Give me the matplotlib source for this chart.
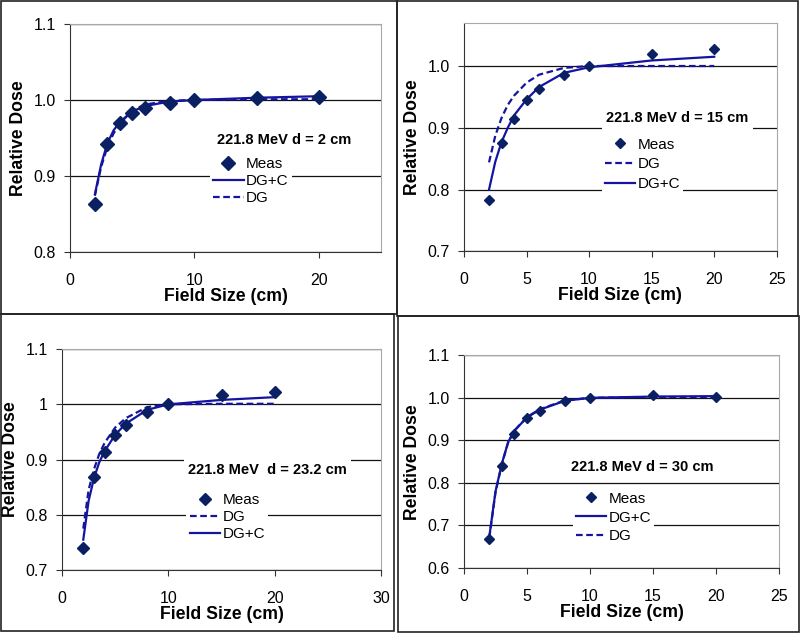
import matplotlib
matplotlib.use("Agg")
import matplotlib.pyplot as plt
from matplotlib.patches import Rectangle
from matplotlib.ticker import FormatStrFormatter, MultipleLocator

plt.rcParams["font.family"] = ["Liberation Sans", "DejaVu Sans"]

# measured points
field = [2, 3, 4, 5, 6, 8, 10, 15, 20]
meas_2cm = [0.863, 0.942, 0.970, 0.983, 0.990, 0.996, 1.000, 1.002, 1.004]
meas_15cm = [0.783, 0.875, 0.915, 0.945, 0.963, 0.986, 1.000, 1.020, 1.028]
meas_232cm = [0.740, 0.869, 0.913, 0.944, 0.963, 0.987, 1.000, 1.016, 1.023]
meas_30cm = [0.667, 0.839, 0.914, 0.952, 0.969, 0.992, 1.000, 1.006, 1.003]

# model curves
fit_x = [2, 2.5, 3, 3.5, 4, 5, 6, 8, 10, 15, 20]
dgc_2cm = [0.876, 0.915, 0.943, 0.960, 0.971, 0.985, 0.992, 0.998, 1.000, 1.003, 1.005]
dg_2cm = [0.874, 0.912, 0.938, 0.956, 0.969, 0.986, 0.994, 0.999, 1.000, 1.001, 1.001]
dgc_15cm = [0.800, 0.845, 0.877, 0.900, 0.920, 0.946, 0.966, 0.989, 0.998, 1.009, 1.015]
dg_15cm = [0.844, 0.887, 0.916, 0.937, 0.952, 0.973, 0.986, 0.997, 1.000, 1.000, 1.000]
dgc_232cm = [0.755, 0.825, 0.866, 0.895, 0.915, 0.945, 0.965, 0.990, 1.000, 1.008, 1.013]
dg_232cm = [0.775, 0.845, 0.882, 0.910, 0.930, 0.958, 0.975, 0.995, 1.000, 1.001, 1.001]
dgc_30cm = [0.672, 0.780, 0.845, 0.896, 0.923, 0.954, 0.972, 0.993, 1.000, 1.003, 1.004]
dg_30cm = [0.670, 0.778, 0.844, 0.895, 0.923, 0.955, 0.973, 0.994, 1.000, 1.002, 1.002]

panels = [
    # rect, data, xmax, xstep, ylim, yfmt, title, title pos, legend order, legend anchor, spacing, ms
    ([0.0875, 0.602, 0.389, 0.360], meas_2cm, dgc_2cm, dg_2cm, 25, 10, (0.8, 1.1), "%.1f",
     "221.8 MeV d = 2 cm", (0.688, 0.491), ["Meas", "DG+C", "DG"], (0.45, 0.43), 0.2, 7),
    ([0.580, 0.603, 0.391, 0.361], meas_15cm, dgc_15cm, dg_15cm, 25, 5, (0.7, 1.07), "%.1f",
     "221.8 MeV d = 15 cm", (0.682, 0.582), ["Meas", "DG", "DG+C"], (0.44, 0.511), 0.38, 5.5),
    ([0.0775, 0.0995, 0.399, 0.349], meas_232cm, dgc_232cm, dg_232cm, 30, 10, (0.7, 1.1), "%g",
     "221.8 MeV  d = 23.2 cm", (0.644, 0.4525), ["Meas", "DG", "DG+C"], (0.39, 0.363), 0.2, 6),
    ([0.580, 0.1027, 0.394, 0.336], meas_30cm, dgc_30cm, dg_30cm, 25, 5, (0.6, 1.1), "%.1f",
     "221.8 MeV d = 30 cm", (0.567, 0.476), ["Meas", "DG+C", "DG"], (0.345, 0.373), 0.32, 5.5),
]

fig = plt.figure(figsize=(8, 6.33), dpi=100)

# panel frames
for x0, y0, w, h in [(0.001, 0.504, 0.495, 0.495), (0.496, 0.501, 0.502, 0.498),
                     (0.001, 0.003, 0.492, 0.501), (0.497, 0.001, 0.502, 0.500)]:
    fig.add_artist(Rectangle((x0, y0), w, h, transform=fig.transFigure,
                             fill=False, edgecolor="#222222", lw=1.2))

line_c = "#1414a0"
mark_c = "#0b1f63"

for (rect, meas, dgc, dg, xmax, xstep, ylim, yfmt, title, tpos,
     order, lpos, lspace, ms) in panels:
    ax = fig.add_axes(rect)
    ax.plot(field, meas, linestyle="none", marker="D", ms=ms, color=mark_c,
            label="Meas", zorder=4)
    ax.plot(fit_x, dgc, color=line_c, lw=1.6, label="DG+C", zorder=3)
    ax.plot(fit_x, dg, color=line_c, lw=1.6, ls=(0, (3, 1.6)), label="DG", zorder=3)
    ax.set_xlim(0, xmax)
    ax.set_ylim(*ylim)
    ax.xaxis.set_major_locator(MultipleLocator(xstep))
    ax.yaxis.set_major_locator(MultipleLocator(0.1))
    ax.yaxis.set_major_formatter(FormatStrFormatter(yfmt))
    ax.yaxis.grid(True, color="#111111", lw=0.9)
    ax.set_axisbelow(True)
    for s in ["top", "right"]:
        ax.spines[s].set_color("#a8a8a8")
    for s in ["left", "bottom"]:
        ax.spines[s].set_color("#333333")
    ax.tick_params(axis="both", direction="out", length=4, color="#333333",
                   labelsize=11.5)
    ax.tick_params(axis="x", pad=11)
    ax.tick_params(axis="y", pad=6)
    ax.set_xlabel("Field Size (cm)", fontsize=12.7, fontweight="bold", labelpad=0)
    ax.set_ylabel("Relative Dose", fontsize=12.7, fontweight="bold", labelpad=5)

    ax.text(tpos[0], tpos[1], title, transform=ax.transAxes, ha="center", va="center",
            fontsize=10.5, fontweight="bold", zorder=6,
            bbox=dict(facecolor="white", edgecolor="none", pad=3))

    handles, labels = ax.get_legend_handles_labels()
    hmap = dict(zip(labels, handles))
    leg = ax.legend([hmap[k] for k in order], order, loc="upper left",
                    bbox_to_anchor=lpos, fontsize=11, frameon=True,
                    handlelength=2.0, handletextpad=0.15, labelspacing=lspace,
                    borderpad=0.2, borderaxespad=0)
    leg.get_frame().set_facecolor("white")
    leg.get_frame().set_edgecolor("none")
    leg.get_frame().set_alpha(1)
    leg.set_zorder(6)

fig.savefig("out.png", dpi=100)
